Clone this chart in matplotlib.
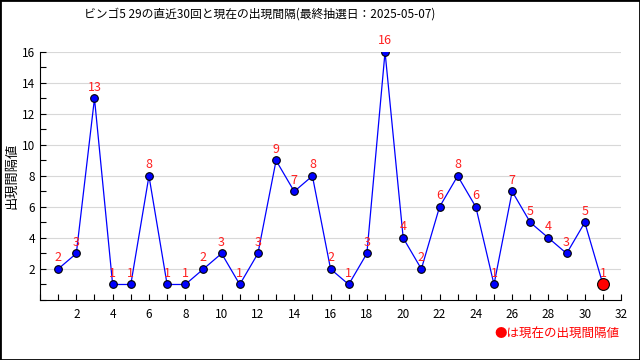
import matplotlib
matplotlib.use("Agg")
import matplotlib.pyplot as plt
from matplotlib.ticker import MultipleLocator
from matplotlib.patches import Rectangle

plt.rcParams['font.family'] = ['Noto Sans CJK JP', 'DejaVu Sans']

draws = list(range(1, 31))
intervals = [2, 3, 13, 1, 1, 8, 1, 1, 2, 3, 1, 3, 9, 7, 8, 2, 1, 3, 16, 4,
             2, 6, 8, 6, 1, 7, 5, 4, 3, 5]
current_x = 31
current_val = 1

title = "ビンゴ5 29の直近30回と現在の出現間隔(最終抽選日：2025-05-07)"

fig = plt.figure(figsize=(6.4, 3.6), dpi=100)
ax = fig.add_axes([0.0625, 0.1667, 0.908, 0.689])

xs = draws + [current_x]
ys = intervals + [current_val]
ax.plot(xs, ys, color='blue', lw=0.9, zorder=2)
ax.plot(draws, intervals, 'o', color='blue', mec='black', mew=0.8, ms=5.5, zorder=3)
ax.plot([current_x], [current_val], 'o', color='red', mec='black', mew=0.8, ms=8.5, zorder=4)

for x, y in zip(xs, ys):
    ax.annotate(str(y), (x, y), xytext=(0, 3.5), textcoords='offset points',
                ha='center', va='bottom', color='#ff2020', fontsize=9, clip_on=False)

ax.set_xlim(0, 32)
ax.set_ylim(0, 16)
ax.xaxis.set_minor_locator(MultipleLocator(1))
ax.yaxis.set_minor_locator(MultipleLocator(1))
ax.set_xticks(range(2, 33, 2))
ax.set_yticks(range(2, 17, 2))
ax.grid(axis='y', color='#d8d8d8', lw=0.8, zorder=0)
ax.spines['top'].set_visible(False)
ax.spines['right'].set_visible(False)
ax.tick_params(which='both', direction='in', labelsize=8.5, length=4, width=0.8)
ax.tick_params(axis='x', pad=6)

fig.text(12 / 640, 1 - 176 / 360, "出現間隔値", rotation=90, ha='center', va='center', fontsize=9.5)
fig.text(260 / 640, 0.962, title, ha='center', va='center', fontsize=8.5)
fig.text(0.967, 0.072, "●は現在の出現間隔値", ha='right', va='center', color='red', fontsize=9)
fig.patches.append(Rectangle((0, 0), 1, 1, transform=fig.transFigure, fill=False,
                             edgecolor='black', lw=2))

fig.savefig("out.png", dpi=100)
